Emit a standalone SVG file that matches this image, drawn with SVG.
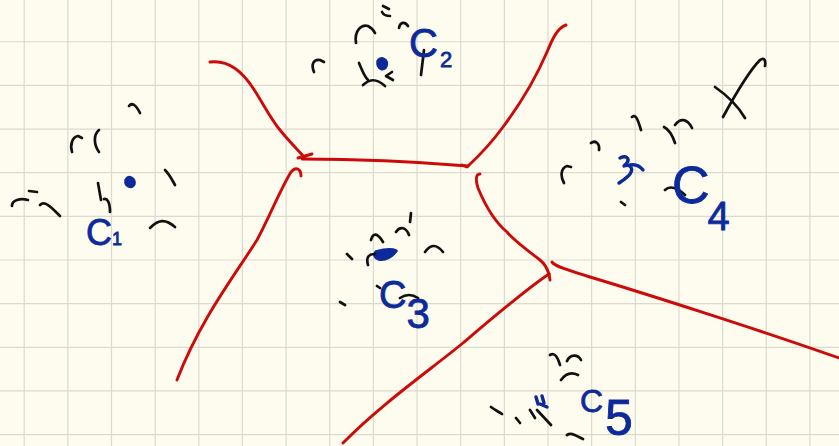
<svg xmlns="http://www.w3.org/2000/svg" width="839" height="446" viewBox="0 0 839 446">
<style>
.grid{stroke:#dcd9cf;stroke-width:1.2;fill:none}
.edge{stroke:#cc0a0a;stroke-width:2.9;fill:none;stroke-linecap:round;stroke-linejoin:round}
.ink{stroke:#111;stroke-width:2.7;fill:none;stroke-linecap:round;stroke-linejoin:round}
.pt{stroke:#0d2a9a;stroke-width:3.4;fill:#0d2a9a;stroke-linecap:round;stroke-linejoin:round}
.lbl{font-family:"Liberation Sans",Arial,sans-serif;fill:#0d2a9a;stroke:#0d2a9a;stroke-width:0.8}
</style>
<rect width="839" height="446" fill="#fefcef"/>
<path class="grid" d="M24.2,0V446 M67.85,0V446 M111.5,0V446 M155.15,0V446 M198.8,0V446 M242.45,0V446 M286.1,0V446 M329.75,0V446 M373.4,0V446 M417.05,0V446 M460.7,0V446 M504.35,0V446 M548,0V446 M591.65,0V446 M635.3,0V446 M678.95,0V446 M722.6,0V446 M766.25,0V446 M809.9,0V446 M0,41.75H839 M0,85.4H839 M0,129.05H839 M0,172.7H839 M0,216.35H839 M0,260H839 M0,303.65H839 M0,347.3H839 M0,390.95H839 M0,434.6H839"/>
<g id="edges">
<path class="edge" d="M210,62 C225,60 240,68 253,88 C263,103 270,118 280,130 C288,140 296,148 305,158"/>
<path class="edge" d="M302,159 C360,159 420,162 468,166"/>
<path class="edge" d="M298,158 L312,154"/>
<path class="edge" d="M462,165 L467,167 C480,155 495,138 503,127 C518,107 535,80 547,52 C552,40 557,28 566,25"/>
<path class="edge" d="M301,176 C301,169 296,166 291,172 C280,190 268,220 257,240 C235,275 200,320 177,380"/>
<path class="edge" d="M480,174 C475,174 476,182 478,188 C485,205 495,222 507,232 C515,242 530,252 540,260 C545,264 547,268 549,274"/>
<path class="edge" d="M549,274 C525,290 490,320 463,343 C430,370 380,405 343,443"/>
<path class="edge" d="M549,274 L550,280"/>
<path class="edge" d="M552,262 C554,266 570,271 590,277 C640,292 760,330 839,358"/>
</g>
<g id="C1">
<path class="pt" d="M126,180 C129,175 135,179 134,184 C132,188 125,187 126,180 Z"/>
<path class="ink" d="M129,106 C132,102 136,105 140,113 M72,152 C70,145 72,137 78,136 L82,138 M99,130 C93,135 94,145 99,152 M165,170 C170,175 172,180 175,185 M98,183 L101,200 M104,199 C107,198 110,202 110,212 M12,206 C12,200 20,198 28,200 M29,191 L37,192 M40,205 C45,200 52,208 60,216 M150,228 C158,220 165,218 175,227"/>
<text class="lbl" x="86" y="245" font-size="36">C<tspan font-size="18">1</tspan></text>
</g>
<g id="C2">
<path class="pt" d="M378,61 C381,56 388,60 386,66 C384,71 377,69 378,61 Z"/>
<path class="ink" d="M383,6 L389,9 M382,12 C384,16 388,16 390,16 M399,28 C400,22 405,21 408,26 M356,43 C354,30 362,24 368,26 C372,28 374,31 375,33 M314,72 C311,65 313,59 320,60 L324,62 M359,63 C362,70 364,76 368,80 M363,85 C370,79 376,78 385,86 M392,72 L386,76 L393,80 M424,50 L421,75"/>
<text class="lbl" x="409" y="57" font-size="40">C<tspan font-size="22" dx="2" dy="10">2</tspan></text>
</g>
<g id="C3">
<path class="pt" d="M376,252 C383,250 392,249 396,251 C392,256 386,260 379,259 C375,258 374,255 376,252 Z"/>
<path class="ink" d="M371,240 C373,233 377,232 383,242 M396,232 C400,226 406,227 409,235 M411,213 L410,222 M425,252 C430,245 436,243 443,252 M347,254 L352,259 M368,265 C366,258 368,254 375,254 M377,286 L380,288 M340,302 L345,305 M400,298 C406,294 412,294 418,298"/>
<text class="lbl" x="379" y="308" font-size="38">C<tspan font-size="42" dx="0" dy="20">3</tspan></text>
</g>
<g id="C4">
<path class="pt" style="fill:none" d="M620,158 C626,155 630,158 627,163 L624,166 C630,164 634,168 630,174 C627,178 622,181 619,183 M630,165 C635,164 640,166 643,170"/>
<path class="ink" d="M715,87 C728,96 738,106 745,118 M723,117 C735,95 748,72 760,60 C764,57 766,60 765,66 M564,183 C560,176 561,168 567,166 L571,167 M591,143 C595,140 600,143 599,150 M632,117 C636,114 638,120 641,130 M664,127 C670,130 673,137 675,143 M675,125 C680,118 687,118 692,128 M665,190 C670,185 678,188 685,195 M621,202 L625,205"/>
<text class="lbl" x="672" y="203" font-size="52">C<tspan font-size="40" dx="-2" dy="27">4</tspan></text>
</g>
<g id="C5">
<path class="pt" style="fill:none" d="M536,397 L538,404 M542,396 L544,403 M540,404 L547,407"/>
<path class="ink" d="M550,355 C555,352 558,358 560,365 M567,361 C570,354 578,354 581,360 M561,380 C566,373 572,372 578,375 M491,407 C495,410 499,412 502,414 M516,418 L520,423 M530,410 L535,418 M537,410 L551,425 M567,435 C572,432 576,436 583,439"/>
<text class="lbl" x="580" y="412" font-size="32">C<tspan font-size="50" dx="2" dy="23">5</tspan></text>
</g>
</svg>
